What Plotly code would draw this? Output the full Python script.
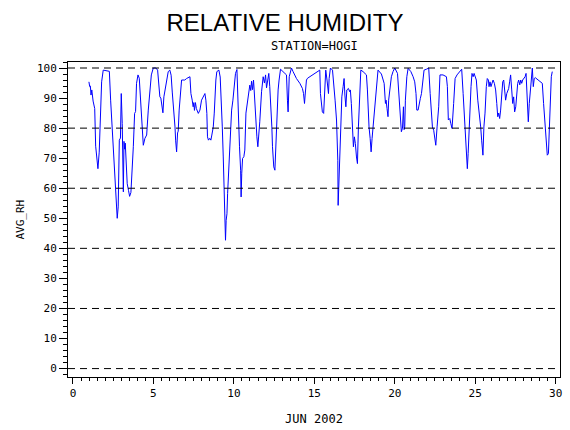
import plotly.graph_objects as go

# hourly-ish relative humidity readings, station HOGI, June 2002
day = [
    0.99, 1.04, 1.08, 1.12, 1.17, 1.25, 1.35, 1.41, 1.47, 1.55, 1.63, 1.68, 1.78, 1.88,
    2.26, 2.34, 2.42, 2.53, 2.61, 2.67, 2.75, 2.81, 2.88, 2.95, 3.0, 3.06, 3.13, 3.17,
    3.21, 3.25, 3.32, 3.37, 3.45, 3.52, 3.6, 3.68, 3.75, 3.83, 3.89, 3.95, 4.04, 4.12,
    4.2, 4.28, 4.37, 4.47, 4.58, 4.68, 4.78, 4.87, 4.99, 5.15, 5.26, 5.34, 5.4, 5.46,
    5.53, 5.59, 5.65, 5.78, 5.92, 6.02, 6.1, 6.17, 6.27, 6.34, 6.38, 6.44, 6.5, 6.54,
    6.6, 6.69, 6.75, 6.95, 7.06, 7.27, 7.33, 7.41, 7.47, 7.51, 7.55, 7.61, 7.67, 7.79,
    7.89, 7.99, 8.1, 8.2, 8.26, 8.32, 8.36, 8.42, 8.5, 8.57, 8.63, 8.72, 8.78, 8.82,
    8.88, 8.94, 9.07, 9.15, 9.23, 9.28, 9.34, 9.4, 9.44, 9.48, 9.52, 9.57, 9.61, 9.69,
    9.77, 9.86, 9.94, 10.02, 10.1, 10.19, 10.23, 10.27, 10.35, 10.42, 10.45, 10.49, 10.54,
    10.62, 10.68, 10.75, 10.81, 10.85, 10.93, 10.99, 11.05, 11.1, 11.16, 11.22, 11.26,
    11.3, 11.36, 11.43, 11.49, 11.55, 11.61, 11.72, 11.82, 11.9, 11.97, 12.03, 12.1,
    12.17, 12.23, 12.3, 12.36, 12.4, 12.48, 12.55, 12.61, 12.67, 12.75, 12.81, 12.9,
    13.17, 13.27, 13.33, 13.37, 13.44, 13.52, 13.58, 13.68, 13.89, 14.1, 14.26, 14.33,
    14.39, 14.43, 14.51, 14.58, 15.34, 15.38, 15.44, 15.5, 15.58, 15.65, 15.71, 15.79,
    15.88, 15.92, 16.0, 16.13, 16.21, 16.29, 16.38, 16.42, 16.46, 16.48, 16.52, 16.56,
    16.63, 16.71, 16.79, 16.85, 16.9, 16.96, 17.02, 17.12, 17.2, 17.24, 17.3, 17.37,
    17.43, 17.49, 17.55, 17.62, 17.68, 17.74, 17.81, 17.89, 18.03, 18.24, 18.3, 18.34,
    18.4, 18.47, 18.53, 18.59, 18.65, 18.72, 18.8, 18.88, 18.96, 19.17, 19.34, 19.42,
    19.46, 19.52, 19.58, 19.62, 19.71, 19.79, 19.89, 20.0, 20.17, 20.25, 20.31, 20.35,
    20.41, 20.48, 20.54, 20.58, 20.62, 20.66, 20.75, 20.83, 21.0, 21.14, 21.24, 21.32,
    21.37, 21.45, 21.53, 21.59, 21.66, 21.74, 21.82, 21.97, 22.11, 22.2, 22.28, 22.34,
    22.42, 22.48, 22.55, 22.63, 22.73, 22.81, 23.0, 23.21, 23.27, 23.33, 23.42, 23.48,
    23.56, 23.66, 23.75, 23.87, 24.04, 24.16, 24.25, 24.33, 24.41, 24.45, 24.51, 24.56,
    24.62, 24.68, 24.74, 24.8, 24.87, 24.93, 25.01, 25.07, 25.16, 25.24, 25.34, 25.4,
    25.44, 25.48, 25.54, 25.61, 25.69, 25.75, 25.82, 25.86, 25.92, 25.98, 26.05, 26.11,
    26.19, 26.27, 26.34, 26.4, 26.46, 26.52, 26.58, 26.65, 26.71, 26.77, 26.83, 26.89,
    26.96, 27.02, 27.08, 27.14, 27.2, 27.27, 27.33, 27.39, 27.45, 27.52, 27.58, 27.64,
    27.7, 27.77, 27.83, 27.89, 27.95, 28.02, 28.1, 28.16, 28.22, 28.26, 28.3, 28.36,
    28.43, 28.49, 28.55, 28.61, 28.67, 28.73, 29.01, 29.17, 29.25, 29.32, 29.38, 29.44,
    29.48, 29.55, 29.61, 29.67, 29.73, 29.79,
]
avg_rh = [
    95.4, 93.8, 94.0, 91.0, 92.7, 89.0, 86.5, 74.0, 71.0, 66.5, 72.0, 80.4, 95.4, 99.3,
    98.9, 89.3, 81.6, 70.0, 64.9, 60.0, 50.0, 53.8, 76.0, 76.7, 91.5, 81.5, 58.8, 75.6,
    73.0, 75.0, 69.3, 61.5, 59.3, 57.3, 58.6, 65.0, 73.8, 84.9, 85.5, 94.9, 97.7, 96.6,
    90.4, 83.8, 74.3, 76.6, 77.7, 86.0, 91.5, 97.7, 100.0, 100.0, 99.3, 92.1, 90.4, 90.0,
    87.1, 85.1, 90.4, 94.9, 98.8, 99.3, 97.6, 92.0, 86.0, 80.4, 76.0, 72.1, 78.4, 79.0,
    86.0, 94.3, 96.0, 96.0, 96.5, 97.1, 91.5, 89.3, 87.1, 88.5, 85.9, 88.5, 86.5, 84.9,
    86.0, 89.3, 90.5, 91.5, 89.3, 84.9, 77.1, 76.0, 76.6, 76.0, 77.7, 80.4, 85.0, 91.5,
    96.0, 98.8, 99.3, 97.0, 88.2, 80.4, 70.4, 59.3, 53.8, 42.7, 49.3, 51.5, 58.2, 68.2,
    74.9, 86.0, 89.3, 93.8, 98.2, 99.5, 91.0, 82.0, 73.8, 66.0, 57.1, 65.0, 69.9,
    70.5, 72.7, 85.0, 87.0, 89.3, 91.0, 94.3, 92.5, 95.6, 92.8, 96.0, 92.7,
    88.2, 83.8, 77.1, 73.8, 80.4, 82.1, 92.1, 97.1, 95.0, 97.7, 93.4, 95.5,
    98.2, 93.8, 88.2, 80.4, 73.8, 67.1, 66.0, 74.9, 86.0, 92.7, 96.0, 99.6,
    98.2, 97.7, 89.3, 85.4, 97.1, 98.8, 100.0, 98.8, 96.5, 94.9, 93.2, 91.5,
    88.2, 91.0, 96.0, 96.6, 99.3, 91.5, 87.7, 85.4, 84.9, 91.5, 99.3, 96.0,
    91.5, 96.5, 100.0, 99.3, 94.9, 89.3, 82.7, 77.1, 69.3, 54.3, 60.4, 70.4,
    80.4, 90.4, 93.8, 96.5, 91.0, 87.1, 92.7, 93.2, 92.1, 92.7, 88.2, 78.2,
    73.8, 77.1, 74.9, 70.4, 68.2, 80.4, 88.2, 99.3, 98.8, 97.7, 92.7, 86.0,
    80.4, 76.6, 72.1, 76.6, 80.4, 85.0, 91.5, 97.1, 99.3, 98.0, 94.9, 88.2,
    89.3, 86.5, 83.8, 89.3, 93.8, 97.1, 98.8, 100.0, 98.2, 91.5, 86.0, 80.4,
    78.8, 80.0, 87.1, 79.5, 80.4, 89.3, 97.1, 99.9, 98.8, 97.1, 95.4, 91.5,
    86.0, 86.0, 89.3, 89.9, 91.5, 96.0, 99.3, 99.6, 100.0, 91.5, 86.0, 80.4,
    79.3, 76.0, 74.3, 80.4, 87.1, 97.7, 97.7, 97.1, 93.8, 82.7, 83.2, 81.6,
    79.9, 88.2, 96.5, 97.7, 98.8, 99.6, 91.5, 82.7, 77.1, 69.3, 66.5, 71.5,
    80.4, 89.3, 93.8, 98.2, 97.1, 98.2, 97.1, 96.0, 89.3, 86.0, 80.4, 76.0,
    71.6, 71.0, 80.4, 85.0, 93.8, 96.5, 96.0, 93.8, 95.4, 93.8, 95.0, 96.0,
    94.9, 92.7, 88.2, 83.8, 85.0, 83.2, 86.0, 91.5, 95.4, 96.0, 91.5, 89.3,
    91.5, 92.1, 93.2, 95.4, 97.7, 92.7, 88.2, 90.4, 85.4, 87.1, 91.5, 94.9,
    96.0, 94.4, 96.0, 94.9, 96.0, 96.5, 97.1, 98.2, 92.7, 87.7, 82.1, 88.2,
    93.2, 98.2, 100.0, 93.8, 96.5, 96.8, 95.4, 94.9, 88.2, 82.7, 77.1, 73.8,
    71.0, 71.5, 80.4, 89.3, 97.1, 98.8,
]

ref_lines = [0, 20, 40, 60, 80, 100]
x_ticks = [0, 5, 10, 15, 20, 25, 30]
y_ticks = list(range(0, 101, 10))

mono = "DejaVu Sans Mono"

fig = go.Figure()
fig.add_trace(go.Scatter(x=day, y=avg_rh, mode="lines",
                         line=dict(color="#0000ff", width=1), showlegend=False))

for v in ref_lines:
    fig.add_hline(y=v, line=dict(color="black", width=1, dash="7px,5px"))

fig.update_layout(
    width=570, height=430,
    margin=dict(l=68, r=10, t=62, b=53),
    paper_bgcolor="white", plot_bgcolor="white",
    font=dict(family=mono, size=11, color="black"),
    title=dict(text="RELATIVE HUMIDITY", x=0.5, xanchor="center", y=0.948, yanchor="middle",
               font=dict(family="Liberation Sans, Arial", size=24, color="black")),
    annotations=[
        dict(text="STATION=HOGI", xref="paper", yref="paper", x=0.5, y=1.0,
             yshift=7, xanchor="center", yanchor="bottom", showarrow=False,
             font=dict(family=mono, size=12, color="black")),
        # y axis title placed by hand (axis title standoff ignored without automargin)
        dict(text="AVG_RH", xref="paper", yref="paper", x=0, y=0.5, xshift=-48,
             xanchor="center", yanchor="middle", textangle=-90, showarrow=False,
             font=dict(family=mono, size=11, color="black")),
    ],
)
fig.update_xaxes(
    range=[-0.31, 30.27], tickvals=x_ticks, ticks="outside", ticklen=6, tickwidth=1,
    tickcolor="black", showgrid=False, zeroline=False, showline=True, linecolor="black",
    linewidth=1, mirror=True, automargin=False,
    minor=dict(dtick=0.5, ticks="outside", ticklen=3, tickcolor="black", showgrid=False),
    title=dict(text="JUN 2002", font=dict(family=mono, size=12)),
)
fig.update_yaxes(
    range=[-2.8, 102.0], tickvals=y_ticks, ticks="outside", ticklen=8, tickwidth=1,
    tickcolor="black", showgrid=False, zeroline=False, showline=True, linecolor="black",
    linewidth=1, mirror=True, automargin=False,
    minor=dict(dtick=2, ticks="outside", ticklen=4, tickcolor="black", showgrid=False),
)

# page body has a default 8px margin that pushes the figure off the window
fig.write_html("out.html", config={"displayModeBar": False},
               post_script="document.body.style.margin = '0';")
